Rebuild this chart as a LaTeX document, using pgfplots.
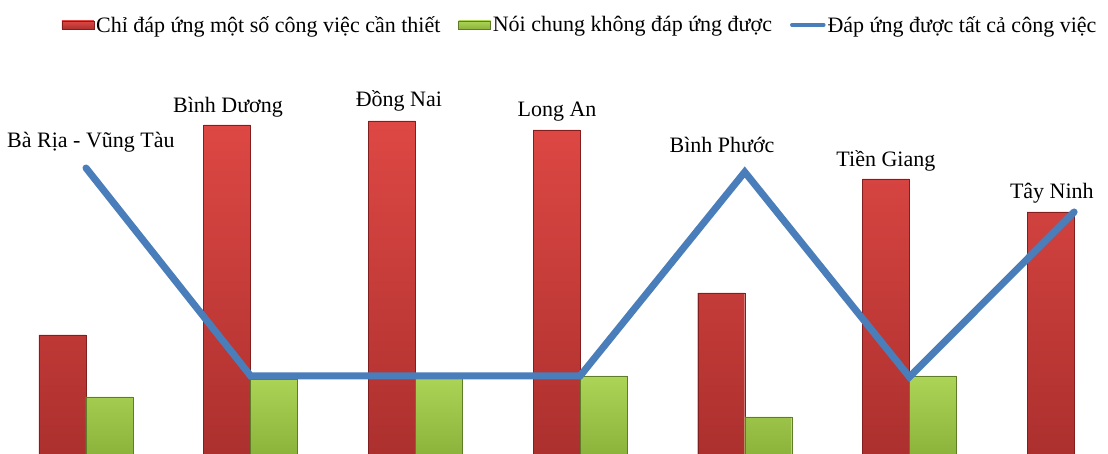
\documentclass[border=0pt]{standalone}
\usepackage{pgfplots}
\pgfplotsset{compat=1.18}
\usepackage{fontspec}
\setmainfont{Liberation Serif}

\definecolor{redtop}{RGB}{222,72,68}
\definecolor{redbot}{RGB}{172,48,46}
\definecolor{reddark}{RGB}{130,30,30}
\definecolor{greentop}{RGB}{172,212,86}
\definecolor{greenbot}{RGB}{140,180,60}
\definecolor{greendark}{RGB}{95,125,40}
\definecolor{lineblue}{RGB}{74,126,187}

\begin{document}
\begin{tikzpicture}
\begin{axis}[
  scale only axis, width=1108pt, height=454pt,
  xmin=-0.5222, xmax=6.2058, ymin=0, ymax=454,
  hide axis,
  bar width=47pt,
  legend columns=3,
  legend style={draw=none, fill=none, at={(0.5235,0.945)}, anchor=center,
    font=\fontsize{22}{25}\selectfont,
    /tikz/every even column/.append style={column sep=16pt}},
]
% keep the full plot area as the picture's extent
\path (rel axis cs:0,0) rectangle (rel axis cs:1,1);
% red: only some necessary tasks
\addplot[ybar, bar shift=-23.5pt, top color=redtop, bottom color=redbot, draw=reddark, line width=0.4pt,
  legend image code/.code={\shade[top color=redtop, bottom color=redbot, draw=reddark] (0pt,-4pt) rectangle (32pt,4pt);}]
  coordinates {(0,119) (1,329) (2,333) (3,324) (4,161) (5,275) (6,242)};
\addlegendentry{Chỉ đáp ứng một số công việc cần thiết}
% green: generally cannot meet
\addplot[ybar, bar shift=23.5pt, top color=greentop, bottom color=greenbot, draw=greendark, line width=0.4pt,
  legend image code/.code={\shade[top color=greentop, bottom color=greenbot, draw=greendark] (0pt,-4pt) rectangle (32pt,4pt);}]
  coordinates {(0,57) (1,75) (2,76) (3,78) (4,37) (5,78)};
\addlegendentry{Nói chung không đáp ứng được}
% blue line: meets all tasks
\addplot[lineblue, line width=7pt, line cap=round, line join=miter, mark=none,
  legend image code/.code={\draw[lineblue, line width=3.5pt] (0pt,0pt) -- (32pt,0pt);}]
  coordinates {(0,286) (1,78) (2,78) (3,78) (4,282) (5,77) (6,242)};
\addlegendentry{Đáp ứng được tất cả công việc}

\begin{scope}[every node/.style={anchor=base, font=\fontsize{22}{25}\selectfont, inner sep=0pt}]
\node at (axis cs:0.030,306) {Bà Rịa - Vũng Tàu};
\node at (axis cs:0.862,341) {Bình Dương};
\node at (axis cs:1.900,347) {Đồng Nai};
\node at (axis cs:2.860,337) {Long An};
\node at (axis cs:3.862,301) {Bình Phước};
\node at (axis cs:4.857,287) {Tiền Giang};
\node at (axis cs:5.865,255) {Tây Ninh};
\end{scope}
\end{axis}
\end{tikzpicture}
\end{document}
